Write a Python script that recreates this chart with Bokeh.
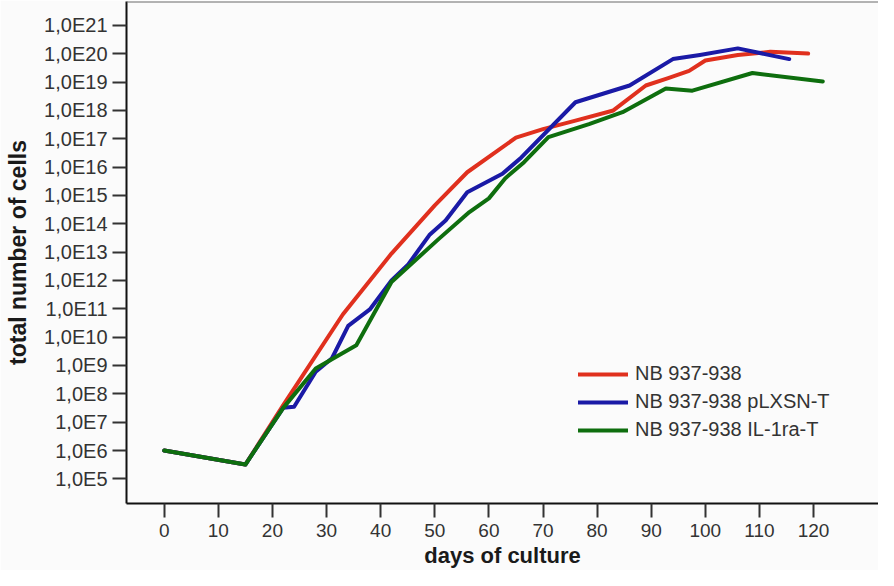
from bokeh.plotting import figure
from bokeh.models import FixedTicker, Span, Range1d
from bokeh.embed import file_html
from bokeh.resources import INLINE

# ---- data ----
red_days = [0, 15, 22, 33, 42, 50, 56, 65, 70, 76, 83, 89, 93, 97, 100, 106, 112, 119]
red_cells = [1.0e6, 3.2e5, 4.0e7, 6.3e10, 8.9e12, 4.5e14, 6.6e15, 1.1e17, 2.2e17, 4.4e17,
             1.0e18, 7.6e18, 1.35e19, 2.5e19, 5.8e19, 9.1e19, 1.17e20, 1.02e20]

blue_days = [0, 15, 22, 24, 28, 31, 34, 38, 42, 45, 49, 52, 56, 62.5, 66, 76, 86, 94, 99, 106, 115.5]
blue_cells = [1.0e6, 3.2e5, 3.2e7, 3.5e7, 6.0e8, 1.8e9, 2.5e10, 9.5e10, 1.0e12, 3.5e12, 4.0e13,
              1.3e14, 1.3e15, 5.8e15, 2.2e16, 1.95e18, 7.6e18, 6.5e19, 9.1e19, 1.55e20, 6.5e19]

green_days = [0, 15, 22, 28, 35.5, 42, 50.8, 56.4, 60, 63, 66.5, 71, 78.5, 84.7, 92.7, 97.6, 108.7, 121.7]
green_cells = [1.0e6, 3.2e5, 3.2e7, 7.9e8, 5.2e9, 8.9e11, 3.0e13, 2.6e14, 7.9e14, 4.0e15, 1.5e16,
               1.15e17, 3.3e17, 8.7e17, 6.0e18, 5.0e18, 2.1e19, 1.05e19]

series_names = ["NB 937-938", "NB 937-938 pLXSN-T", "NB 937-938 IL-1ra-T"]
series_colors = ["#e0301e", "#1a1aa6", "#0e6e0e"]

x_ticks = [0, 10, 20, 30, 40, 50, 60, 70, 80, 90, 100, 110, 120]
y_ticks = [1e5, 1e6, 1e7, 1e8, 1e9, 1e10, 1e11, 1e12, 1e13, 1e14, 1e15, 1e16, 1e17,
           1e18, 1e19, 1e20, 1e21]
y_tick_labels = ["1,0E5", "1,0E6", "1,0E7", "1,0E8", "1,0E9", "1,0E10", "1,0E11", "1,0E12",
                 "1,0E13", "1,0E14", "1,0E15", "1,0E16", "1,0E17", "1,0E18", "1,0E19",
                 "1,0E20", "1,0E21"]
x_title = "days of culture"
y_title = "total number of cells"

x_start, x_end = -6.97, 132.0
y_start, y_end = 10 ** 4.13, 10 ** 21.845

FONT = "Liberation Sans"
BG = "#fbfbfb"

p = figure(width=878, height=570, y_axis_type="log",
           x_range=Range1d(x_start, x_end), y_range=Range1d(y_start, y_end),
           output_backend="svg", toolbar_location=None,
           min_border_left=126, min_border_right=0, min_border_top=1, min_border_bottom=66)

p.background_fill_color = BG
p.border_fill_color = BG
p.outline_line_color = None
p.xgrid.visible = False
p.ygrid.visible = False

for days, cells, name, col in zip([red_days, blue_days, green_days],
                                  [red_cells, blue_cells, green_cells],
                                  series_names, series_colors):
    p.line(days, cells, line_color=col, line_width=4, legend_label=name,
           line_join="round", line_cap="round")

# top frame line
p.add_layout(Span(location=y_end, dimension="width", line_color="#6a6a6a", line_width=2))

# axes
for ax in (p.xaxis[0], p.yaxis[0]):
    ax.axis_line_color = "#111111"
    ax.axis_line_width = 2
    ax.major_tick_line_color = "#333333"
    ax.major_tick_line_width = 2
    ax.major_tick_in = 0
    ax.major_tick_out = 14
    ax.minor_tick_line_color = None
    ax.major_label_text_font = FONT
    ax.major_label_text_color = "#333333"
    ax.axis_label_text_font = FONT
    ax.axis_label_text_font_style = "bold"
    ax.axis_label_text_color = "#1a1a1a"

p.xaxis.ticker = FixedTicker(ticks=x_ticks)
p.xaxis.major_label_text_font_size = "19px"
p.xaxis.major_label_standoff = 6
p.xaxis.axis_label = x_title
p.xaxis.axis_label_text_font_size = "22px"
p.xaxis.axis_label_standoff = 3

p.yaxis.ticker = FixedTicker(ticks=y_ticks)
p.yaxis.major_label_overrides = {t: lab for t, lab in zip(y_ticks, y_tick_labels)}
p.yaxis.major_label_text_font_size = "20px"
p.yaxis.major_label_standoff = 5
p.yaxis.axis_label = y_title
p.yaxis.axis_label_text_font_size = "23px"
p.yaxis.axis_label_standoff = 10

leg = p.legend[0]
leg.location = (452, 62)
leg.border_line_color = None
leg.background_fill_alpha = 0
leg.padding = 0
leg.margin = 0
leg.spacing = 5
leg.glyph_width = 50
leg.glyph_height = 20
leg.label_height = 20
leg.label_standoff = 7
leg.label_text_font = FONT
leg.label_text_font_size = "20px"
leg.label_text_color = "#333333"

open("out.html", "w").write(file_html(p, INLINE))
